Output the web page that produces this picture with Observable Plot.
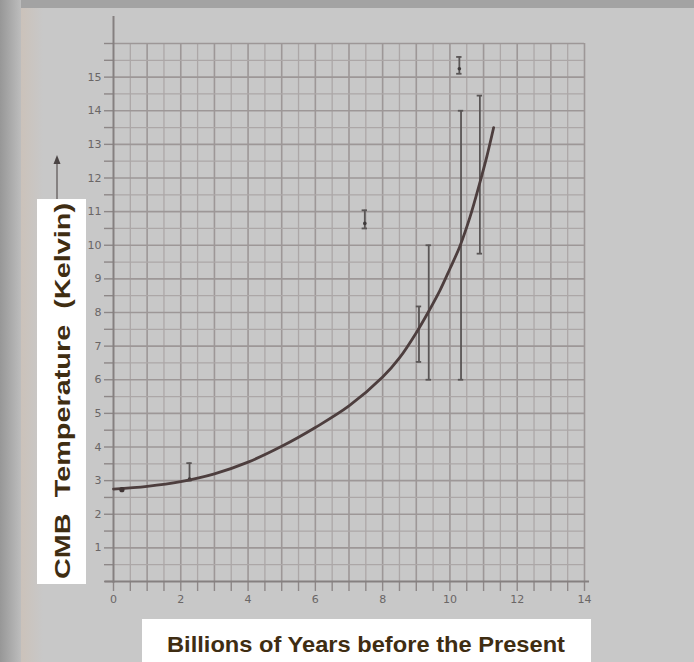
<!DOCTYPE html>
<html><head><meta charset="utf-8">
<script src="https://cdn.jsdelivr.net/npm/d3@7"></script>
<script src="https://cdn.jsdelivr.net/npm/@observablehq/plot@0.6"></script>
<style>
html,body{margin:0;padding:0;background:#c5c5c5;}
#wrap{position:relative;width:694px;height:662px;overflow:hidden;background:#c8c8c8;}
#topband{position:absolute;left:0;top:0;width:694px;height:8px;background:#a3a3a3;}
#leftband{position:absolute;left:0;top:0;width:21px;height:662px;background:linear-gradient(to right,#979797,#bdbdbd);}
#paperedge{position:absolute;left:21px;top:8px;width:22px;height:654px;background:linear-gradient(to right,#cbc2ba,#c8c8c8);}
#chart{position:absolute;left:0;top:0;}
#deco{position:absolute;left:0;top:0;}
#ylab{position:absolute;left:37px;top:199px;width:49px;height:385px;background:#fff;}
#xlab{position:absolute;left:142px;top:619px;width:449px;height:43px;background:#fff;}
</style>
</head><body>
<div id="wrap">
  <div id="topband"></div>
  <div id="leftband"></div>
  <div id="paperedge"></div>
  <div id="chart"></div>
  <svg id="deco" width="694" height="662">
    <line x1="57" y1="160" x2="57" y2="200" stroke="#6f6a6a" stroke-width="1.5"/>
    <path d="M53.5,164 L57,155 L60.5,164 Z" fill="#4a4444"/>
  </svg>
  <div id="ylab"><svg width="49" height="385">
    <text transform="translate(32.5,192) rotate(-90)" text-anchor="middle" textLength="376" lengthAdjust="spacingAndGlyphs" style="white-space:pre" font-family="Liberation Sans, Arial, sans-serif" font-weight="bold" font-size="22" fill="#3f2d12">CMB  Temperature  (Kelvin)</text>
  </svg></div>
  <div id="xlab"><svg width="449" height="43">
    <text x="224" y="33" text-anchor="middle" textLength="398" lengthAdjust="spacingAndGlyphs" font-family="Liberation Sans, Arial, sans-serif" font-weight="bold" font-size="22" fill="#3f2d12">Billions of Years before the Present</text>
  </svg></div>
</div>
<script>
// Smooth curve drawn through the plot (billions of years before present, CMB temperature K)
const curveYears = [0, 1, 2, 3, 4, 5, 6, 7, 8, 8.5, 9, 9.35, 9.7, 10, 10.3, 10.6, 10.9, 11.1, 11.3];
const curveTemp  = [2.75, 2.83, 2.97, 3.2, 3.55, 4.02, 4.58, 5.22, 6.08, 6.65, 7.4, 8.0, 8.65, 9.3, 9.98, 10.85, 11.9, 12.65, 13.5];

// Measurements with error bars
const obsYears = [2.26, 7.47, 9.08, 9.37, 10.28, 10.33, 10.89];
const obsTemp  = [3.05, 10.65, 7.4, 8.0, 15.25, 10.0, 12.0];
const obsLow   = [3.0, 10.5, 6.53, 6.0, 15.1, 6.0, 9.75];
const obsHigh  = [3.52, 11.04, 8.18, 10.0, 15.6, 14.0, 14.45];

// Present-day point
const nowYears = [0.25];
const nowTemp = [2.73];

// Axis ticks
const xTickLabels = [0, 2, 4, 6, 8, 10, 12, 14];
const yTickLabels = [1, 2, 3, 4, 5, 6, 7, 8, 9, 10, 11, 12, 13, 14, 15];

const curve = curveYears.map((x, i) => ({x, y: curveTemp[i]}));
const obs = obsYears.map((x, i) => ({x, y: obsTemp[i], lo: obsLow[i], hi: obsHigh[i]}));
const now = nowYears.map((x, i) => ({x, y: nowTemp[i]}));

const xGrid = d3.range(0, 14.01, 0.5);
const yGrid = d3.range(0, 16.01, 0.5);
const capW = 0.08;

const plot = Plot.plot({
  width: 694, height: 662,
  marginLeft: 113, marginRight: 110, marginTop: 43, marginBottom: 81,
  x: {domain: [0, 14]},
  y: {domain: [0, 16]},
  style: {background: "transparent", color: "#6a6666", fontFamily: "DejaVu Sans, sans-serif", fontSize: "11px"},
  marks: [
    Plot.ruleX(xGrid.filter(d => d % 1 !== 0), {y1: 0, y2: 16, stroke: "#aca7a7", strokeWidth: 1.3}),
    Plot.ruleX(xGrid.filter(d => d % 1 === 0 && d > 0), {y1: 0, y2: 16, stroke: "#9d9797", strokeWidth: 1.6}),
    Plot.ruleY(yGrid.filter(d => d % 1 !== 0), {x1: 0, x2: 14, stroke: "#aca7a7", strokeWidth: 1.3}),
    Plot.ruleY(yGrid.filter(d => d % 1 === 0 && d > 0), {x1: 0, x2: 14, stroke: "#9d9797", strokeWidth: 1.6}),
    Plot.axisX({ticks: xGrid, tickSize: 10, tickPadding: 4, stroke: "#8d8787", strokeWidth: 1.4,
      tickFormat: d => xTickLabels.includes(d) ? String(d) : "", label: null, fill: "#6a6666"}),
    Plot.axisY({ticks: yGrid, tickSize: 9, tickPadding: 3, stroke: "#8d8787", strokeWidth: 1.4,
      tickFormat: d => yTickLabels.includes(d) ? String(d) : "", label: null, fill: "#6a6666"}),
    Plot.ruleX([0], {y1: -0.05, y2: 16.8, stroke: "#858080", strokeWidth: 2}),
    Plot.ruleY([0], {x1: -0.25, x2: 14.15, stroke: "#858080", strokeWidth: 2}),
    Plot.ruleX(obs, {x: "x", y1: "lo", y2: "hi", stroke: "#5a5656", strokeWidth: 1.8}),
    Plot.ruleY(obs, {y: "hi", x1: d => d.x - capW, x2: d => d.x + capW, stroke: "#5a5656", strokeWidth: 1.8}),
    Plot.ruleY(obs, {y: "lo", x1: d => d.x - capW, x2: d => d.x + capW, stroke: "#5a5656", strokeWidth: 1.8}),
    Plot.dot(obs.filter(d => d.hi - d.lo < 1), {x: "x", y: "y", r: 1.8, fill: "#3e3a3a"}),
    Plot.line(curve, {x: "x", y: "y", curve: "catmull-rom", stroke: "#4d3e3e", strokeWidth: 2.8}),
    Plot.dot(now, {x: "x", y: "y", r: 2.6, fill: "#403535"})
  ]
});
document.getElementById("chart").appendChild(plot);
</script>
</body></html>
